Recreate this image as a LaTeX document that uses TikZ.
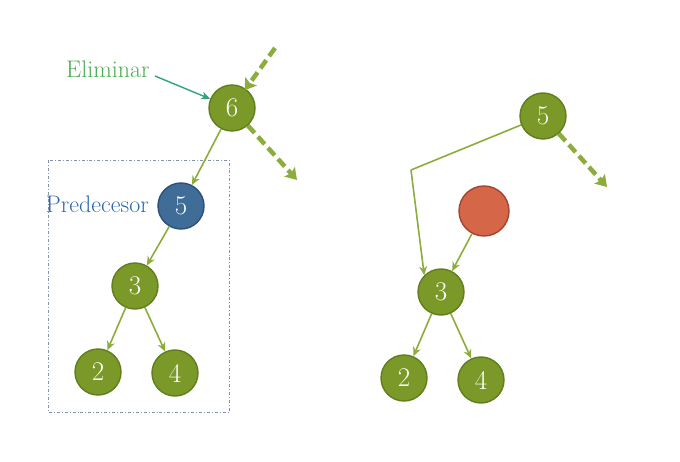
\documentclass[tikz,border=0pt]{standalone}
\usepackage{tikz}
\usepackage{xcolor}
\usetikzlibrary{positioning}
\usetikzlibrary{arrows.meta}
\usetikzlibrary{calc}
\definecolor{nodeGreen}{RGB}{122,153,40}
\definecolor{nodeGreenDark}{RGB}{98,125,30}
\definecolor{edgeGreen}{RGB}{140,172,60}
\definecolor{nodeBlue}{RGB}{64,108,152}
\definecolor{nodeBlueDark}{RGB}{44,80,120}
\definecolor{nodeRed}{RGB}{214,102,72}
\definecolor{nodeRedDark}{RGB}{160,70,48}
\definecolor{textGreen}{RGB}{76,172,84}
\definecolor{textBlue}{RGB}{46,104,178}
\definecolor{arrowTeal}{RGB}{52,160,124}
\definecolor{boxGray}{RGB}{130,146,170}

\begin{document}
\begin{tikzpicture}[x=1pt,y=-1pt,
  tnode/.style={circle, minimum size=46pt, inner sep=0pt, line width=1.4pt,
    draw=nodeGreenDark, fill=nodeGreen, text=white, font=\fontsize{27}{30}\selectfont},
  pnode/.style={tnode, draw=nodeBlueDark, fill=nodeBlue},
  rnode/.style={tnode, minimum size=50pt, draw=nodeRedDark, fill=nodeRed},
  edge/.style={draw=edgeGreen, line width=1.6pt, -{Stealth[length=9pt,width=8pt]}},
  dashedge/.style={draw=edgeGreen, line width=4.5pt, dash pattern=on 10pt off 5pt,
    -{Stealth[length=11pt,width=14pt,inset=2pt]}},
  label/.style={font=\fontsize{24}{28}\selectfont, inner sep=0pt},
]
\useasboundingbox (0,0) rectangle (680,462);

% left tree
\node [tnode] (six) at (232,108) {6};
\node [pnode] (pre) at (181,206) {5};
\node [tnode] (threeL) at (135,286) {3};
\node [tnode] (twoL) at (98,372) {2};
\node [tnode] (fourL) at (175,373) {4};

\draw [edge] (six) -- (pre);
\draw [edge] (pre) -- (threeL);
\draw [edge] (threeL) -- (twoL);
\draw [edge] (threeL) -- (fourL);

\coordinate (inL) at (275,48);
\coordinate (outL) at (297,180);
\draw [dashedge, shorten >=-2pt] (inL) -- (six);
\draw [dashedge] (six) -- (outL);

\node [label, text=textGreen, anchor=west] (elim) at (66,69) {Eliminar};
\draw [arrowTeal, line width=1.4pt, -{Stealth[length=9pt,width=8pt]}] (155,76) -- (six);
\node [label, text=textBlue, anchor=east] (predtxt) at (149,204) {Predecesor};

\draw [boxGray, line width=0.9pt, dash dot] (48,160) rectangle (229,412);

% right tree
\node [tnode] (fiveR) at (543,116) {5};
\node [rnode] (del) at (484,211) {};
\node [tnode] (threeR) at (441,292) {3};
\node [tnode] (twoR) at (404,378) {2};
\node [tnode] (fourR) at (481,380) {4};

\coordinate (bend) at (411,170);
\draw [edge, -] (fiveR) -- (bend);
\draw [edge] (bend) -- (threeR.north west);
\draw [edge] (del) -- (threeR);
\draw [edge] (threeR) -- (twoR);
\draw [edge] (threeR) -- (fourR);

\coordinate (outR) at (607,187);
\draw [dashedge] (fiveR) -- (outR);
\end{tikzpicture}
\end{document}
